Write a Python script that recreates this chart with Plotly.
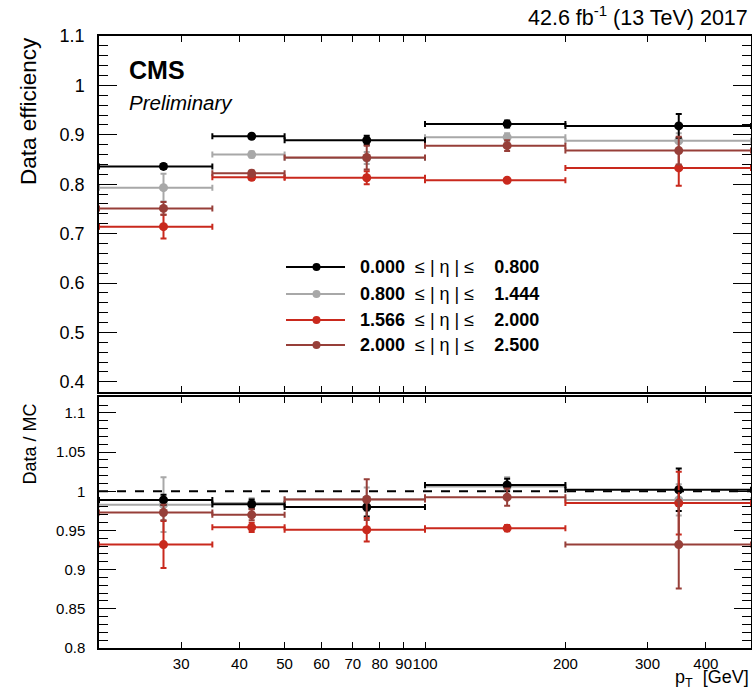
import math
import plotly.graph_objects as go

W, H = 752, 692

# ---------------- data ----------------
bin_lo = [20, 35, 50, 100, 200]
bin_hi = [35, 50, 100, 200, 500]
series_names = ["0.000", "0.800", "1.566", "2.000"]
series_hi = ["0.800", "1.444", "2.000", "2.500"]
colors = ["#000000", "#a8a8a8", "#c9291d", "#973f39"]

eff_black = [0.836, 0.897, 0.889, 0.922, 0.918]
eff_black_err = [0.005, 0.004, 0.009, 0.007, 0.024]
eff_gray = [0.793, 0.860, 0.853, 0.895, 0.888]
eff_gray_err = [0.028, 0.006, 0.012, 0.008, 0.015]
eff_red = [0.714, 0.814, 0.813, 0.808, 0.833]
eff_red_err = [0.024, 0.005, 0.013, 0.003, 0.036]
eff_brown = [0.751, 0.822, 0.854, 0.878, 0.868]
eff_brown_err = [0.013, 0.006, 0.024, 0.011, 0.028]

sf_black = [0.989, 0.9835, 0.980, 1.008, 1.002]
sf_black_err = [0.0065, 0.006, 0.012, 0.008, 0.027]
sf_gray = [0.983, 0.985, 0.990, 1.006, 0.989]
sf_gray_err = [0.035, 0.006, 0.015, 0.012, 0.02]
sf_red = [0.932, 0.954, 0.951, 0.953, 0.985]
sf_red_err = [0.030, 0.006, 0.015, 0.004, 0.04]
sf_brown = [0.973, 0.970, 0.9895, 0.9925, 0.932]
sf_brown_err = [0.010, 0.007, 0.026, 0.011, 0.056]

eff = [eff_black, eff_gray, eff_red, eff_brown]
eff_err = [eff_black_err, eff_gray_err, eff_red_err, eff_brown_err]
sf = [sf_black, sf_gray, sf_red, sf_brown]
sf_err = [sf_black_err, sf_gray_err, sf_red_err, sf_brown_err]

x_ticks = [30, 40, 50, 60, 70, 80, 90, 100, 200, 300, 400]

# ---------------- helpers ----------------
def px(x):
    return x / W

def py(y):
    return 1 - y / H

centers = [(a + b) / 2 for a, b in zip(bin_lo, bin_hi)]
half = [(b - a) / 2 for a, b in zip(bin_lo, bin_hi)]

fig = go.Figure()
draw_order = [1, 0, 2, 3]
for panel, (vals, errs) in enumerate([(eff, eff_err), (sf, sf_err)]):
    xa = "x" if panel == 0 else "x2"
    ya = "y" if panel == 0 else "y2"
    for i in draw_order:
        c = colors[i]
        fig.add_trace(go.Scatter(
            x=centers, y=vals[i], mode="markers", xaxis=xa, yaxis=ya,
            marker=dict(color=c, size=9),
            error_x=dict(type="data", array=half, color=c, thickness=2, width=3),
            error_y=dict(type="data", array=errs[i], color=c, thickness=2, width=3),
            showlegend=False, hoverinfo="skip"))

font_main = "Liberation Sans, Arial, sans-serif"
xr = [math.log10(20), math.log10(500)]
xdom = [px(99), px(751)]

common_x = dict(type="log", range=xr, domain=xdom, tickvals=x_ticks,
                ticks="inside", ticklen=6, tickwidth=1, tickcolor="black",
                showline=True, linecolor="black", linewidth=1.5, mirror="allticks",
                showgrid=False, zeroline=False, automargin=False)

fig.update_layout(
    template="none",
    width=W, height=H, margin=dict(l=0, r=0, t=0, b=0, pad=0),
    paper_bgcolor="white", plot_bgcolor="white",
    font=dict(family=font_main, color="black"),
    showlegend=False,
    xaxis=dict(common_x, anchor="y", showticklabels=False),
    xaxis2=dict(common_x, anchor="y2", showticklabels=True,
                ticktext=[str(v) for v in x_ticks], tickangle=0,
                tickfont=dict(size=15, family=font_main), ticklabelstandoff=1),
    yaxis=dict(domain=[py(391.7), py(36)], range=[0.38, 1.1], anchor="x",
               tickvals=[0.4, 0.5, 0.6, 0.7, 0.8, 0.9, 1.0, 1.1],
               ticktext=["0.4", "0.5", "0.6", "0.7", "0.8", "0.9", "1", "1.1"],
               ticks="inside", ticklen=18, tickwidth=1, tickcolor="black",
               minor=dict(dtick=0.02, tick0=0, ticks="inside", ticklen=9, tickcolor="black", tickwidth=1),
               showline=True, linecolor="black", linewidth=1.5, mirror="allticks",
               showgrid=False, zeroline=False, automargin=False,
               tickfont=dict(size=18, family=font_main), ticklabelstandoff=9),
    yaxis2=dict(domain=[py(648), py(397.3)], range=[0.8, 1.12], anchor="x2",
                tickvals=[0.8, 0.85, 0.9, 0.95, 1.0, 1.05, 1.1],
                ticktext=["0.8", "0.85", "0.9", "0.95", "1", "1.05", "1.1"],
                ticks="inside", ticklen=17, tickwidth=1, tickcolor="black",
                minor=dict(dtick=0.01, tick0=0, ticks="inside", ticklen=9, tickcolor="black", tickwidth=1),
                showline=True, linecolor="black", linewidth=1.5, mirror="allticks",
                showgrid=False, zeroline=False, automargin=False,
                tickfont=dict(size=15, family=font_main), ticklabelstandoff=9),
)

# reference line at 1 in ratio panel
fig.add_shape(type="line", xref="x2 domain", yref="y2", x0=0, x1=1, y0=1, y1=1,
              line=dict(color="black", width=2, dash="dash"))

ann = []
ann.append(dict(text="42.6 fb<sup>-1</sup> (13 TeV) 2017", x=px(750), y=py(16),
                xanchor="right", yanchor="middle", font=dict(size=21.5)))
ann.append(dict(text="<b>CMS</b>", x=px(127), y=py(70), xanchor="left", yanchor="middle",
                font=dict(size=25)))
ann.append(dict(text="<i>Preliminary</i>", x=px(127), y=py(102), xanchor="left", yanchor="middle",
                font=dict(size=20.5)))
ann.append(dict(text="Data efficiency", x=px(29), y=py(35), xanchor="center", yanchor="top",
                textangle=-90, font=dict(size=22.5)))
ann.append(dict(text="Data / MC", x=px(29), y=py(402), xanchor="center", yanchor="top",
                textangle=-90, font=dict(size=18)))
ann.append(dict(text="p<sub>T</sub>  [GeV]", x=px(751), y=py(678), xanchor="right", yanchor="middle",
                font=dict(size=18)))

# legend (drawn manually)
leg_rows = [267, 294, 320, 345]
nb = "\u00a0"
for i, yy in enumerate(leg_rows):
    c = colors[i]
    fig.add_shape(type="line", xref="paper", yref="paper", x0=px(286), x1=px(345),
                  y0=py(yy), y1=py(yy), line=dict(color=c, width=2))
    fig.add_shape(type="circle", xref="paper", yref="paper", x0=px(312.5), x1=px(320.5),
                  y0=py(yy + 4), y1=py(yy - 4), fillcolor=c, line=dict(color=c, width=0))
    label = (f"<b>{series_names[i]}</b>{nb*2}≤{nb}|{nb}η{nb}|{nb}≤{nb*4}"
             f"<b>{series_hi[i]}</b>")
    ann.append(dict(text=label, x=px(358), y=py(yy), xanchor="left", yanchor="middle",
                    font=dict(size=18)))

for a in ann:
    a.update(xref="paper", yref="paper", showarrow=False)
    fig.add_annotation(**a)

fig.write_html("out.html", config={"displayModeBar": False},
               post_script="document.body.style.margin='0px';document.body.style.overflow='hidden';")
